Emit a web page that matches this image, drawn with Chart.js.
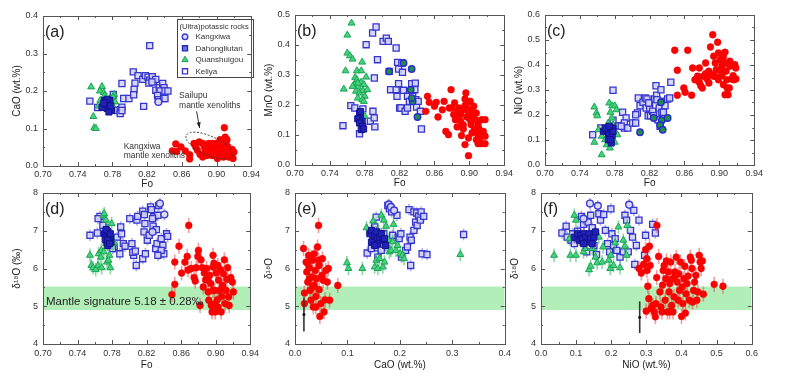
<!DOCTYPE html>
<html><head><meta charset="utf-8">
<script src="https://cdn.jsdelivr.net/npm/chart.js@4.4.0/dist/chart.umd.min.js"></script>
<style>
html,body{margin:0;padding:0;background:#fff;width:800px;height:382px;overflow:hidden;position:relative;}
canvas{position:absolute;}
</style></head><body>
<canvas id="ca"></canvas><canvas id="cb"></canvas><canvas id="cc"></canvas>
<canvas id="cd"></canvas><canvas id="ce"></canvas><canvas id="cf"></canvas>
<script>
// ---------- tick values ----------
const FO_TICKS=[0.70,0.74,0.78,0.82,0.86,0.90,0.94];
const CAO_TICKS=[0,0.1,0.2,0.3,0.4];
const MNO_TICKS=[0,0.1,0.2,0.3,0.4,0.5];
const NIO_TICKS=[0,0.1,0.2,0.3,0.4,0.5,0.6];
const D18O_TICKS=[4,5,6,7,8];
const MANTLE_BAND=[4.9,5.52];

// ---------- (a) CaO vs Fo ----------
const A_KELIYA=[[0.754,0.173],[0.763,0.156],[0.781,0.191],[0.786,0.148],[0.789,0.151],[0.791,0.157],[0.789,0.140],[0.791,0.148],[0.791,0.220],[0.793,0.180],[0.799,0.180],[0.805,0.204],[0.806,0.221],[0.804,0.251],[0.8045,0.190],[0.8095,0.241],[0.815,0.231],[0.818,0.241],[0.816,0.159],[0.823,0.321],[0.821,0.237],[0.823,0.229],[0.826,0.238],[0.822,0.221],[0.8275,0.225],[0.830,0.231],[0.830,0.202],[0.834,0.209],[0.838,0.220],[0.8395,0.209],[0.835,0.200],[0.8406,0.200],[0.844,0.200],[0.832,0.188],[0.833,0.177],[0.839,0.180],[0.8406,0.180],[0.8256,0.224]];
const A_DAHONG=[[0.771,0.175],[0.773,0.171],[0.775,0.166],[0.7705,0.159],[0.774,0.153],[0.777,0.175],[0.779,0.148],[0.768,0.156],[0.776,0.144],[0.772,0.165],[0.778,0.160],[0.774,0.178],[0.770,0.168]];
const A_QUAN=[[0.7555,0.211],[0.768,0.212],[0.7656,0.200],[0.758,0.132],[0.759,0.102],[0.761,0.100],[0.770,0.196],[0.771,0.188],[0.777,0.180],[0.782,0.191],[0.781,0.184],[0.783,0.171],[0.780,0.162],[0.775,0.157],[0.766,0.175],[0.764,0.160]];
const A_KANG=[[0.833,0.171]];
const A_RED=[[0.849,0.040],[0.853,0.059],[0.854,0.039],[0.859,0.051],[0.864,0.040],[0.869,0.030],[0.869,0.019],[0.874,0.060],[0.876,0.051],[0.878,0.042],[0.881,0.031],[0.884,0.060],[0.886,0.051],[0.888,0.044],[0.891,0.040],[0.893,0.051],[0.895,0.060],[0.897,0.046],[0.899,0.037],[0.901,0.031],[0.903,0.061],[0.904,0.051],[0.906,0.042],[0.909,0.102],[0.910,0.077],[0.911,0.061],[0.913,0.051],[0.914,0.037],[0.916,0.028],[0.918,0.044],[0.919,0.020],[0.918,0.033],[0.899,0.060],[0.895,0.028],[0.889,0.028],[0.884,0.024],[0.901,0.020],[0.908,0.024],[0.914,0.024],[0.920,0.037],[0.904,0.070],[0.912,0.070],[0.891,0.060],[0.880,0.064],[0.887,0.038],[0.893,0.034],[0.907,0.034],[0.896,0.055],[0.902,0.045],[0.909,0.048]];

// ---------- (b) MnO vs Fo ----------
const B_QUAN=[[0.7648,0.473],[0.760,0.433],[0.760,0.373],[0.763,0.364],[0.766,0.353],[0.758,0.314],[0.756,0.253],[0.771,0.314],[0.776,0.314],[0.777,0.343],[0.769,0.292],[0.771,0.284],[0.7686,0.268],[0.772,0.260],[0.776,0.276],[0.779,0.268],[0.7816,0.293],[0.770,0.246],[0.774,0.240],[0.778,0.248],[0.780,0.229],[0.783,0.251],[0.772,0.223],[0.777,0.218],[0.779,0.212],[0.780,0.162],[0.766,0.262],[0.772,0.273]];
const B_DAHONG=[[0.774,0.173],[0.775,0.157],[0.772,0.154],[0.777,0.146],[0.774,0.140],[0.7777,0.129],[0.776,0.118],[0.7787,0.120],[0.775,0.178]];
const B_KELIYA=[[0.764,0.198],[0.7686,0.190],[0.774,0.104],[0.755,0.131],[0.7779,0.187],[0.7864,0.146],[0.7909,0.157],[0.7916,0.127],[0.7894,0.179],[0.791,0.290],[0.789,0.440],[0.793,0.460],[0.7816,0.401],[0.7946,0.351],[0.801,0.412],[0.8047,0.423],[0.807,0.412],[0.8096,0.251],[0.808,0.312],[0.816,0.390],[0.816,0.251],[0.8177,0.342],[0.8188,0.320],[0.820,0.190],[0.8215,0.190],[0.817,0.229],[0.8188,0.271],[0.8233,0.309],[0.8244,0.249],[0.8263,0.179],[0.829,0.229],[0.829,0.190],[0.8312,0.212],[0.8338,0.271],[0.835,0.229],[0.8375,0.251],[0.8386,0.218],[0.8394,0.193],[0.8413,0.212],[0.8438,0.179],[0.845,0.120],[0.838,0.273],[0.8225,0.340]];
const B_KANG=[[0.808,0.312],[0.8245,0.340],[0.8338,0.320],[0.8327,0.251],[0.835,0.212],[0.834,0.223],[0.8405,0.160]];
const B_RED=[[0.850,0.179],[0.852,0.229],[0.854,0.209],[0.860,0.196],[0.862,0.209],[0.864,0.160],[0.869,0.184],[0.871,0.212],[0.873,0.112],[0.876,0.101],[0.879,0.251],[0.877,0.190],[0.880,0.190],[0.882,0.168],[0.883,0.207],[0.884,0.151],[0.886,0.127],[0.888,0.190],[0.890,0.168],[0.891,0.098],[0.893,0.134],[0.895,0.198],[0.895,0.220],[0.895,0.068],[0.896,0.240],[0.897,0.160],[0.899,0.031],[0.899,0.090],[0.900,0.184],[0.901,0.212],[0.902,0.134],[0.903,0.164],[0.905,0.196],[0.906,0.118],[0.907,0.151],[0.908,0.173],[0.910,0.134],[0.910,0.101],[0.912,0.090],[0.914,0.151],[0.916,0.112],[0.918,0.096],[0.918,0.071],[0.918,0.151],[0.914,0.071],[0.910,0.071],[0.907,0.112],[0.899,0.173],[0.893,0.184],[0.890,0.146],[0.886,0.157],[0.903,0.107],[0.908,0.084],[0.897,0.205],[0.901,0.150],[0.905,0.175],[0.911,0.120],[0.893,0.120],[0.887,0.180]];

// ---------- (c) NiO vs Fo ----------
const C_QUAN=[[0.7566,0.232],[0.759,0.208],[0.760,0.197],[0.7566,0.091],[0.765,0.115],[0.765,0.041],[0.7726,0.168],[0.7737,0.248],[0.775,0.211],[0.777,0.237],[0.780,0.237],[0.7819,0.221],[0.783,0.121],[0.7707,0.081],[0.769,0.101],[0.7755,0.101],[0.767,0.135],[0.778,0.161],[0.7766,0.188],[0.780,0.091],[0.7744,0.068],[0.7614,0.141]];
const C_DAHONG=[[0.767,0.135],[0.7707,0.139],[0.7726,0.128],[0.775,0.141],[0.7737,0.121],[0.769,0.148],[0.778,0.148],[0.777,0.117],[0.7726,0.101],[0.776,0.088],[0.775,0.101],[0.778,0.135],[0.7737,0.155]];
const C_KELIYA=[[0.7547,0.121],[0.764,0.148],[0.778,0.299],[0.778,0.179],[0.7848,0.157],[0.789,0.211],[0.793,0.188],[0.791,0.168],[0.791,0.148],[0.795,0.148],[0.7874,0.155],[0.8005,0.168],[0.804,0.168],[0.806,0.208],[0.804,0.201],[0.807,0.268],[0.809,0.237],[0.8124,0.251],[0.815,0.268],[0.817,0.264],[0.816,0.228],[0.8183,0.197],[0.821,0.197],[0.820,0.228],[0.8198,0.248],[0.8235,0.215],[0.8258,0.264],[0.8273,0.317],[0.828,0.279],[0.833,0.301],[0.831,0.228],[0.833,0.255],[0.834,0.211],[0.8358,0.188],[0.8377,0.237],[0.8407,0.264],[0.843,0.268],[0.8443,0.331],[0.8295,0.181],[0.832,0.155],[0.8247,0.197],[0.8358,0.211],[0.8284,0.261],[0.819,0.248]];
const C_KANG=[[0.809,0.131],[0.8247,0.188],[0.833,0.251],[0.834,0.179],[0.832,0.159],[0.835,0.141],[0.8407,0.188]];
const C_RED=[[0.8488,0.459],[0.8637,0.459],[0.8518,0.379],[0.8518,0.279],[0.8592,0.308],[0.8607,0.291],[0.8682,0.279],[0.8693,0.388],[0.872,0.341],[0.875,0.355],[0.877,0.388],[0.877,0.331],[0.8786,0.317],[0.8805,0.308],[0.8816,0.355],[0.8842,0.408],[0.8842,0.365],[0.886,0.344],[0.888,0.375],[0.8898,0.472],[0.8924,0.521],[0.8935,0.435],[0.8935,0.355],[0.8953,0.408],[0.8965,0.381],[0.898,0.491],[0.899,0.448],[0.899,0.341],[0.901,0.421],[0.901,0.379],[0.9028,0.395],[0.9028,0.357],[0.9046,0.432],[0.9046,0.321],[0.9065,0.451],[0.9065,0.408],[0.9076,0.375],[0.9084,0.341],[0.909,0.308],[0.910,0.281],[0.912,0.415],[0.912,0.395],[0.914,0.344],[0.9158,0.357],[0.9177,0.401],[0.9188,0.388],[0.919,0.344],[0.9166,0.341],[0.9065,0.281],[0.8972,0.352],[0.8916,0.361],[0.888,0.328],[0.9114,0.308]];

// ---------- (d) d18O vs Fo ----------
const D_KELIYA=[[0.7544,6.88],[0.763,6.94],[0.766,7.38],[0.7638,7.32],[0.7694,7.14],[0.786,6.83],[0.789,6.39],[0.791,6.92],[0.790,7.10],[0.793,6.66],[0.795,6.59],[0.8005,7.32],[0.803,6.66],[0.805,6.35],[0.804,6.43],[0.808,6.08],[0.8088,7.28],[0.8096,7.38],[0.807,6.46],[0.8155,7.52],[0.8155,6.26],[0.817,6.97],[0.818,7.19],[0.8174,7.43],[0.8186,6.39],[0.8208,6.75],[0.823,6.88],[0.8245,7.63],[0.8256,7.56],[0.8275,7.12],[0.8283,7.37],[0.8305,6.53],[0.832,6.66],[0.8331,7.41],[0.834,7.67],[0.8369,6.79],[0.835,6.38],[0.8388,6.61],[0.8399,6.39],[0.843,6.92],[0.8444,6.85],[0.8313,7.03],[0.8268,7.32],[0.8369,6.48],[0.833,6.35],[0.7825,6.57],[0.7806,6.53]];
const D_DAHONG=[[0.7713,6.92],[0.7731,6.83],[0.775,6.97],[0.7761,6.75],[0.7769,6.83],[0.7743,6.68],[0.778,6.79],[0.772,6.76],[0.775,6.61],[0.7788,6.70],[0.773,7.03],[0.775,6.76],[0.777,6.66],[0.778,6.92]];
const D_QUAN=[[0.7544,6.35],[0.756,6.08],[0.758,6.02],[0.761,5.97],[0.7638,6.08],[0.7644,6.39],[0.7675,6.48],[0.768,6.02],[0.7698,7.41],[0.771,7.45],[0.773,7.28],[0.774,6.17],[0.7758,6.22],[0.778,6.02],[0.7795,7.19],[0.7806,6.66],[0.7825,6.68],[0.7769,6.35],[0.7705,6.44],[0.773,6.66],[0.767,6.30],[0.775,7.06]];
const D_KANG=[[0.8354,7.72],[0.8406,7.43],[0.8268,6.97]];
const D_RED=[[0.8493,5.31],[0.8526,5.58],[0.8526,6.17],[0.8575,6.59],[0.8605,5.88],[0.8643,6.17],[0.867,6.32],[0.868,5.96],[0.8688,7.14],[0.8718,6.00],[0.875,5.76],[0.8763,5.67],[0.8774,6.02],[0.8793,6.32],[0.880,6.48],[0.8819,5.02],[0.883,6.23],[0.8845,6.02],[0.8856,5.51],[0.8868,5.88],[0.8883,5.70],[0.8894,6.00],[0.8913,5.38],[0.892,5.16],[0.893,5.82],[0.8943,5.60],[0.895,5.02],[0.8958,4.85],[0.8969,6.35],[0.8969,6.04],[0.898,6.14],[0.8988,5.42],[0.8995,4.85],[0.9006,5.88],[0.9018,5.17],[0.9025,4.98],[0.9033,5.69],[0.9044,5.42],[0.9055,5.97],[0.9063,4.85],[0.907,5.26],[0.908,5.55],[0.909,5.86],[0.910,6.23],[0.9108,5.07],[0.912,5.42],[0.913,5.71],[0.9138,6.02],[0.915,5.25],[0.9156,5.02],[0.9175,5.76],[0.9194,5.64],[0.9205,5.38],[0.8969,5.42],[0.8913,5.69],[0.9025,6.08],[0.8988,5.06]];

// ---------- (e) d18O vs CaO ----------
const E_KELIYA=[[0.1377,6.41],[0.1458,6.53],[0.152,7.10],[0.155,7.36],[0.157,6.55],[0.158,6.30],[0.1645,6.48],[0.1694,6.92],[0.1863,6.88],[0.1944,7.41],[0.1968,6.83],[0.1987,6.79],[0.2019,6.92],[0.203,6.30],[0.211,6.48],[0.2143,6.57],[0.2174,7.56],[0.2193,6.83],[0.2206,6.08],[0.2218,6.75],[0.2268,7.50],[0.2268,7.01],[0.230,7.23],[0.232,7.47],[0.233,7.14],[0.236,7.39],[0.239,7.28],[0.2405,7.50],[0.2424,6.39],[0.2455,7.38],[0.2517,6.37],[0.3215,6.90],[0.177,7.67],[0.180,7.58],[0.1844,7.50]];
const E_DAHONG=[[0.1427,6.92],[0.1458,7.01],[0.149,6.75],[0.152,6.88],[0.1551,6.97],[0.157,6.79],[0.1582,6.66],[0.1614,6.83],[0.1645,6.92],[0.1676,6.75],[0.1707,6.79],[0.1726,6.61],[0.1458,6.70],[0.152,6.61]];
const E_QUAN=[[0.099,6.15],[0.102,6.00],[0.1284,6.00],[0.1364,7.08],[0.149,7.26],[0.152,6.04],[0.155,6.22],[0.158,6.00],[0.1613,6.26],[0.1676,6.04],[0.1707,6.17],[0.1645,7.41],[0.1694,7.28],[0.1738,7.12],[0.1757,6.61],[0.178,6.75],[0.180,6.44],[0.183,6.48],[0.1863,6.71],[0.188,7.17],[0.1925,6.48],[0.1956,6.61],[0.2006,6.39],[0.205,6.35],[0.208,6.26],[0.3153,6.37],[0.1582,7.01],[0.163,6.83]];
const E_KANG=[[0.179,7.70],[0.183,7.63],[0.189,7.54]];
const E_RED=[[0.0162,6.53],[0.018,5.35],[0.018,5.07],[0.0212,6.17],[0.0224,5.91],[0.0243,5.64],[0.026,6.35],[0.0274,6.02],[0.0287,5.42],[0.0305,5.16],[0.0324,5.78],[0.0336,6.22],[0.0349,4.98],[0.0368,5.56],[0.0368,6.39],[0.0386,5.95],[0.0399,5.26],[0.0411,5.73],[0.043,6.57],[0.0449,7.14],[0.0449,6.22],[0.0461,6.08],[0.0461,5.44],[0.0474,4.73],[0.0492,5.07],[0.0511,5.82],[0.0523,6.26],[0.0536,5.69],[0.0554,4.85],[0.0573,5.17],[0.0586,5.95],[0.0617,5.64],[0.0636,6.00],[0.066,5.16],[0.0816,5.55],[0.0243,6.13],[0.0305,6.30],[0.0336,5.51],[0.0399,4.98],[0.0274,5.73]];
const E_REF=[[0.017,4.78]];

// ---------- (f) d18O vs NiO ----------
const F_KELIYA=[[0.0595,6.94],[0.0716,7.12],[0.0744,6.83],[0.0856,6.75],[0.0902,6.92],[0.0949,6.66],[0.1042,6.99],[0.1088,6.79],[0.1153,7.38],[0.1209,7.17],[0.1247,6.75],[0.1302,6.44],[0.134,7.23],[0.1414,7.41],[0.146,7.08],[0.1507,6.61],[0.1581,6.37],[0.1647,7.45],[0.1693,7.28],[0.1786,7.43],[0.1833,7.01],[0.1898,6.66],[0.1953,6.44],[0.199,7.58],[0.2019,6.92],[0.2065,6.61],[0.2112,6.79],[0.2158,6.48],[0.2251,6.30],[0.2344,6.44],[0.239,7.41],[0.2437,7.28],[0.2484,6.44],[0.2549,7.01],[0.2605,6.83],[0.2642,7.54],[0.267,6.11],[0.2716,6.61],[0.279,7.28],[0.2949,6.35],[0.2977,6.88],[0.3181,7.17],[0.3256,6.94]];
const F_DAHONG=[[0.0949,6.83],[0.1042,6.92],[0.1088,6.75],[0.1135,6.88],[0.1181,6.79],[0.1228,6.92],[0.1274,6.83],[0.1321,6.70],[0.1367,6.92],[0.1414,6.79],[0.146,6.66],[0.1507,6.83],[0.1553,6.97],[0.1209,6.66]];
const F_QUAN=[[0.0372,6.35],[0.0837,6.35],[0.0995,6.35],[0.0995,7.28],[0.0949,7.41],[0.0809,6.79],[0.1042,6.83],[0.121,6.44],[0.1247,6.53],[0.1367,5.97],[0.1414,6.06],[0.146,6.53],[0.1553,6.30],[0.160,6.15],[0.1647,6.83],[0.174,6.17],[0.1767,6.57],[0.1926,6.22],[0.1972,6.00],[0.199,6.35],[0.2065,6.08],[0.2112,6.68],[0.2205,7.10],[0.2251,6.02],[0.2344,6.75],[0.239,6.59],[0.2456,7.14],[0.2437,6.35]];
const F_KANG=[[0.1395,7.72],[0.1619,7.66],[0.251,7.69],[0.121,7.32]];
const F_RED=[[0.279,6.00],[0.2856,5.88],[0.292,6.11],[0.2977,6.50],[0.3014,6.26],[0.3014,5.95],[0.3042,5.53],[0.307,5.20],[0.2995,4.87],[0.3088,6.59],[0.3107,6.08],[0.3135,4.94],[0.318,5.02],[0.3228,4.85],[0.3256,4.72],[0.3274,5.07],[0.3293,5.76],[0.330,7.14],[0.3349,6.32],[0.3386,5.38],[0.3414,4.98],[0.3442,4.85],[0.346,5.56],[0.3479,5.95],[0.3507,6.08],[0.3535,5.16],[0.3553,5.73],[0.3572,6.20],[0.360,4.85],[0.3628,5.91],[0.3646,5.38],[0.3665,5.60],[0.3693,6.17],[0.372,5.02],[0.374,5.73],[0.3758,4.85],[0.3786,5.25],[0.3814,5.91],[0.3851,6.30],[0.3879,5.64],[0.3907,5.16],[0.3926,5.86],[0.3944,5.42],[0.3972,6.17],[0.400,4.73],[0.4018,5.51],[0.4037,5.07],[0.4065,5.73],[0.4093,6.06],[0.4112,4.82],[0.413,5.33],[0.4158,5.60],[0.4186,5.80],[0.4223,5.16],[0.4251,6.30],[0.4279,6.22],[0.4298,6.00],[0.4316,5.11],[0.4344,5.42],[0.4372,5.64],[0.4409,5.82],[0.4437,5.16],[0.4465,5.38],[0.4502,6.35],[0.453,6.17],[0.4558,6.00],[0.4595,6.20],[0.4623,5.32],[0.493,5.58],[0.518,5.53],[0.3665,4.85],[0.3833,5.82]];
const F_REF=[[0.281,4.71]];

// ---------- styles ----------
const ST={
  red:{pointStyle:'circle',pointRadius:3.4,backgroundColor:'#ff0000',borderColor:'#e80000',pointBorderWidth:0.5,order:1,errColor:'rgba(235,60,60,0.5)'},
  kangAC:{pointStyle:'circle',pointRadius:3.2,backgroundColor:'#1d8f46',borderColor:'#2a2ad0',pointBorderWidth:1.4,order:2},
  kangDF:{pointStyle:'circle',pointRadius:3.4,backgroundColor:'rgba(222,222,252,0.9)',borderColor:'#3a3ad2',pointBorderWidth:1.4,order:2,errColor:'rgba(70,70,220,0.5)'},
  dahong:{pointStyle:'rect',pointRadius:4.3,backgroundColor:'#2222b8',borderColor:'#12128c',pointBorderWidth:1,order:3,errColor:'rgba(40,40,200,0.55)'},
  quan:{pointStyle:'triangle',pointRadius:4,backgroundColor:'#46d27f',borderColor:'#1aa452',pointBorderWidth:1,order:4,errColor:'rgba(40,185,95,0.55)'},
  keliya:{pointStyle:'rect',pointRadius:4.3,backgroundColor:'rgba(212,212,250,0.9)',borderColor:'#3535cc',pointBorderWidth:1.3,order:5,errColor:'rgba(80,80,225,0.45)'},
  ref:{pointStyle:'circle',pointRadius:1.5,backgroundColor:'#111',borderColor:'#111',pointBorderWidth:0,order:0,errColor:'#333'}
};
const TXT='#333';
const FONT='"Liberation Sans", Arial, sans-serif';

function ds(arr,style,err){
  return Object.assign({type:'scatter',data:arr.map(p=>({x:p[0],y:p[1]}))},style,err?{err:err}:{});
}
function band(xmin,xmax){
  return [
    {type:'line',data:[{x:xmin,y:MANTLE_BAND[1]},{x:xmax,y:MANTLE_BAND[1]}],borderWidth:0,pointRadius:0,fill:'+1',backgroundColor:'rgba(170,236,175,0.9)',order:20},
    {type:'line',data:[{x:xmin,y:MANTLE_BAND[0]},{x:xmax,y:MANTLE_BAND[0]}],borderWidth:0,pointRadius:0,fill:false,order:21}
  ];
}

// ---------- plugins ----------
const frameTicks={id:'frameTicks',afterDraw(chart){
  const {ctx,chartArea:a,scales:{x,y}}=chart;
  ctx.save();ctx.strokeStyle='#555';ctx.lineWidth=1;ctx.beginPath();
  const L=4,M=2;
  const xt=x.ticks.map(t=>t.value), yt=y.ticks.map(t=>t.value);
  xt.forEach((v,i)=>{
    const p=Math.round(x.getPixelForValue(v))+0.5;
    ctx.moveTo(p,a.bottom);ctx.lineTo(p,a.bottom-L);ctx.moveTo(p,a.top);ctx.lineTo(p,a.top+L);
    if(i<xt.length-1){const m=Math.round(x.getPixelForValue((v+xt[i+1])/2))+0.5;
      ctx.moveTo(m,a.bottom);ctx.lineTo(m,a.bottom-M);ctx.moveTo(m,a.top);ctx.lineTo(m,a.top+M);}
  });
  yt.forEach((v,i)=>{
    const p=Math.round(y.getPixelForValue(v))+0.5;
    ctx.moveTo(a.left,p);ctx.lineTo(a.left+L,p);ctx.moveTo(a.right,p);ctx.lineTo(a.right-L,p);
    if(i<yt.length-1){const m=Math.round(y.getPixelForValue((v+yt[i+1])/2))+0.5;
      ctx.moveTo(a.left,m);ctx.lineTo(a.left+M,m);ctx.moveTo(a.right,m);ctx.lineTo(a.right-M,m);}
  });
  ctx.stroke();
  ctx.strokeRect(Math.round(a.left)+0.5,Math.round(a.top)+0.5,Math.round(a.right-a.left),Math.round(a.bottom-a.top));
  ctx.restore();
}};
const errorBars={id:'errorBars',beforeDatasetDraw(chart,args){
  const d=chart.data.datasets[args.index];
  if(!d.err)return;
  const {ctx,scales:{x,y}}=chart;
  ctx.save();ctx.strokeStyle=d.errColor;ctx.lineWidth=d.errWidth||1.6;ctx.beginPath();
  d.data.forEach(p=>{const px=x.getPixelForValue(p.x);
    ctx.moveTo(px,y.getPixelForValue(p.y-d.err));ctx.lineTo(px,y.getPixelForValue(p.y+d.err));});
  ctx.stroke();ctx.restore();
}};
function decor(cfg){return {id:'decor',afterDatasetsDraw(chart){
  const {ctx,chartArea:a,scales:{x,y}}=chart;
  ctx.save();
  ctx.fillStyle='#222';ctx.font='16px '+FONT;ctx.textBaseline='middle';ctx.textAlign='left';
  ctx.fillText(cfg.label,a.left+2,a.top+17);
  if(cfg.extra)cfg.extra(ctx,a,x,y);
  ctx.restore();
}};}

function marker(ctx,style,px,py){
  ctx.save();ctx.fillStyle=style.backgroundColor;ctx.strokeStyle=style.borderColor;ctx.lineWidth=style.pointBorderWidth;
  ctx.beginPath();
  const r=style.pointRadius;
  if(style.pointStyle==='circle'){ctx.arc(px,py,r,0,Math.PI*2);}
  else if(style.pointStyle==='rect'){const s=r*Math.SQRT1_2;ctx.rect(px-s,py-s,2*s,2*s);}
  else {ctx.moveTo(px,py-r);ctx.lineTo(px+r*0.866,py+r*0.5);ctx.lineTo(px-r*0.866,py+r*0.5);ctx.closePath();}
  ctx.fill();ctx.stroke();ctx.restore();
}

// ---------- annotations for (a) ----------
const SAILUPU_CENTER={x:0.8914,y:0.0544};
const ARROW_FROM={x:0.8770,y:0.146}, ARROW_TO={x:0.8805,y:0.1013};
const LEGEND_ITEMS=['Kangxiwa','Dahongliutan','Quanshuigou','Keliya'];
const LEGEND_TITLE='(Ultra)potassic rocks';
function extraA(ctx,a,x,y){
  ctx.fillStyle=TXT;ctx.font='8.5px '+FONT;ctx.textBaseline='middle';
  ctx.fillText('Sailupu',x.getPixelForValue(0.8568),y.getPixelForValue(0.1867));
  ctx.fillText('mantle xenoliths',x.getPixelForValue(0.8568),y.getPixelForValue(0.1619));
  ctx.fillText('Kangxiwa',x.getPixelForValue(0.793),y.getPixelForValue(0.0525));
  ctx.fillText('mantle xenoliths',x.getPixelForValue(0.793),y.getPixelForValue(0.0285));
  // dashed field
  ctx.save();ctx.strokeStyle='#333';ctx.lineWidth=0.9;ctx.setLineDash([2,1.6]);
  ctx.beginPath();ctx.ellipse(x.getPixelForValue(SAILUPU_CENTER.x),y.getPixelForValue(SAILUPU_CENTER.y),25,9.5,24*Math.PI/180,0,Math.PI*2);ctx.stroke();ctx.restore();
  // arrow
  const x1=x.getPixelForValue(ARROW_FROM.x),y1=y.getPixelForValue(ARROW_FROM.y),x2=x.getPixelForValue(ARROW_TO.x),y2=y.getPixelForValue(ARROW_TO.y);
  ctx.strokeStyle='#222';ctx.lineWidth=0.9;ctx.beginPath();ctx.moveTo(x1,y1);ctx.lineTo(x2,y2);ctx.stroke();
  const ang=Math.atan2(y2-y1,x2-x1);ctx.fillStyle='#222';ctx.beginPath();
  ctx.moveTo(x2,y2);ctx.lineTo(x2-6*Math.cos(ang-0.35),y2-6*Math.sin(ang-0.35));ctx.lineTo(x2-6*Math.cos(ang+0.35),y2-6*Math.sin(ang+0.35));ctx.closePath();ctx.fill();
  // legend box
  const bx=a.left+134.5, by=a.top+3.5, bw=76, bh=58;
  ctx.fillStyle='#fff';ctx.fillRect(bx,by,bw,bh);
  ctx.strokeStyle='#444';ctx.lineWidth=1;ctx.strokeRect(bx,by,bw,bh);
  ctx.fillStyle=TXT;ctx.font='7.6px '+FONT;ctx.textBaseline='middle';
  ctx.fillText(LEGEND_TITLE,bx+2,by+7);
  ctx.font='8px '+FONT;
  const styles=[{...ST.kangDF,pointRadius:2.8,backgroundColor:'#dcdcfa'},{...ST.keliya,pointRadius:3.6,backgroundColor:'#7070e0',borderColor:'#2828c0'},{...ST.quan,pointRadius:3.6},{...ST.keliya,pointRadius:3.6,backgroundColor:'#fff'}];
  LEGEND_ITEMS.forEach((t,i)=>{
    const yy=by+17.3+i*11.5;
    marker(ctx,styles[i],bx+7.5,yy);
    ctx.fillStyle=TXT;ctx.fillText(t,bx+18,yy);
  });
}
function extraD(ctx,a,x,y){
  ctx.fillStyle='#222';ctx.font='11.5px '+FONT;ctx.textBaseline='middle';
  ctx.fillText('Mantle signature 5.18 \u00b1 0.28\u2030',a.left+3,y.getPixelForValue(5.13));
}

// ---------- panels ----------
const PANELS=[
 {id:'ca',L:43,T:16,R:257,B:166,xh:26,label:'(a)',extra:extraA,
  x:{min:0.70,max:0.94,ticks:FO_TICKS,dec:2,title:'Fo'},y:{min:0,max:0.4,ticks:CAO_TICKS,dec:1,title:'CaO (wt.%)'},
  datasets:[ds(A_RED,ST.red),ds(A_KANG,ST.kangDF),ds(A_DAHONG,ST.dahong),ds(A_QUAN,ST.quan),ds(A_KELIYA,ST.keliya)]},
 {id:'cb',L:295,T:15,R:510,B:165,xh:26,label:'(b)',
  x:{min:0.70,max:0.94,ticks:FO_TICKS,dec:2,title:'Fo'},y:{min:0,max:0.5,ticks:MNO_TICKS,dec:1,title:'MnO (wt.%)'},
  datasets:[ds(B_RED,ST.red),ds(B_KANG,ST.kangAC),ds(B_DAHONG,ST.dahong),ds(B_QUAN,ST.quan),ds(B_KELIYA,ST.keliya)]},
 {id:'cc',L:545,T:15,R:760,B:165,xh:26,label:'(c)',
  x:{min:0.70,max:0.94,ticks:FO_TICKS,dec:2,title:'Fo'},y:{min:0,max:0.6,ticks:NIO_TICKS,dec:1,title:'NiO (wt.%)'},
  datasets:[ds(C_RED,ST.red),ds(C_KANG,ST.kangAC),ds(C_DAHONG,ST.dahong),ds(C_QUAN,ST.quan),ds(C_KELIYA,ST.keliya)]},
 {id:'cd',L:43,T:193,R:257,B:344,xh:28,label:'(d)',extra:extraD,
  x:{min:0.70,max:0.94,ticks:FO_TICKS,dec:2,title:'Fo'},y:{min:4,max:8,ticks:D18O_TICKS,dec:0,title:'\u03b4\u00b9\u2078O (\u2030)'},
  datasets:[ds(D_RED,ST.red,0.2),ds(D_KANG,ST.kangDF,0.15),ds(D_DAHONG,ST.dahong,0.15),ds(D_QUAN,ST.quan,0.18),ds(D_KELIYA,ST.keliya,0.15)].concat(band(0.70,0.94))},
 {id:'ce',L:295,T:193,R:509,B:344,xh:28,label:'(e)',
  x:{min:0,max:0.4,ticks:CAO_TICKS,dec:1,title:'CaO (wt.%)'},y:{min:4,max:8,ticks:D18O_TICKS,dec:0,title:'\u03b4\u00b9\u2078O'},
  datasets:[ds(E_REF,ST.ref,0.45),ds(E_RED,ST.red,0.2),ds(E_KANG,ST.kangDF,0.15),ds(E_DAHONG,ST.dahong,0.15),ds(E_QUAN,ST.quan,0.18),ds(E_KELIYA,ST.keliya,0.15)].concat(band(0,0.4))},
 {id:'cf',L:541,T:193,R:756,B:344,xh:28,label:'(f)',
  x:{min:0,max:0.6,ticks:NIO_TICKS,dec:1,title:'NiO (wt.%)'},y:{min:4,max:8,ticks:D18O_TICKS,dec:0,title:'\u03b4\u00b9\u2078O'},
  datasets:[ds(F_REF,ST.ref,0.42),ds(F_RED,ST.red,0.2),ds(F_KANG,ST.kangDF,0.15),ds(F_DAHONG,ST.dahong,0.15),ds(F_QUAN,ST.quan,0.18),ds(F_KELIYA,ST.keliya,0.15)].concat(band(0,0.6))}
];

function axis(spec,horizontal,size,tickPad){
  return {type:'linear',min:spec.min,max:spec.max,
    afterBuildTicks:s=>{s.ticks=spec.ticks.map(v=>({value:v}));},
    afterFit:s=>{if(horizontal)s.height=size;else s.width=size;},
    grid:{display:false,drawTicks:false},border:{display:false},
    ticks:{padding:tickPad,color:'#333',font:{family:FONT,size:9},callback:v=>Number(v).toFixed(spec.dec),autoSkip:false,maxRotation:0},
    title:{display:true,text:spec.title,color:'#222',font:{family:FONT,size:10},
      padding:horizontal?{top:0,bottom:(size===26?2:1)}:{top:11,bottom:0}}
  };
}

PANELS.forEach(p=>{
  const cv=document.getElementById(p.id);
  const left=p.L-43, top=p.T-16, w=p.R-p.L+43+6, h=p.B-p.T+16+p.xh;
  cv.style.left=left+'px';cv.style.top=top+'px';cv.style.width=w+'px';cv.style.height=h+'px';
  cv.width=w;cv.height=h;
  new Chart(cv,{
    type:'scatter',
    data:{datasets:p.datasets},
    options:{responsive:false,animation:false,devicePixelRatio:1,
      layout:{padding:{top:16,right:6,left:0,bottom:0}},
      plugins:{legend:{display:false},tooltip:{enabled:false}},
      scales:{x:axis(p.x,true,p.xh,p.xh===26?3:4),y:axis(p.y,false,43,5)}},
    plugins:[errorBars,frameTicks,decor(p)]
  });
});
</script>
</body></html>
